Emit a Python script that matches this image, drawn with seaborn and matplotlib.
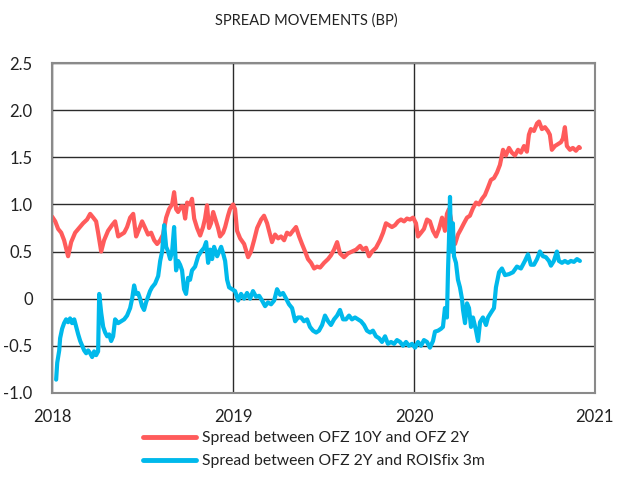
import pandas as pd
import matplotlib
matplotlib.use("Agg")
import matplotlib.pyplot as plt
import seaborn as sns
from matplotlib.ticker import FixedLocator, FuncFormatter

# dates kept as decimal years
red_years = [
    2018.000, 2018.017, 2018.033, 2018.050, 2018.066, 2018.088, 2018.105, 2018.127,
    2018.149, 2018.171, 2018.193, 2018.210, 2018.227, 2018.243, 2018.254, 2018.271,
    2018.287, 2018.309, 2018.331, 2018.348, 2018.365, 2018.381, 2018.398, 2018.414,
    2018.431, 2018.448, 2018.464, 2018.481, 2018.497, 2018.514, 2018.530, 2018.547,
    2018.564, 2018.580, 2018.597, 2018.613, 2018.630, 2018.646, 2018.663, 2018.674,
    2018.685, 2018.696, 2018.713, 2018.724, 2018.735, 2018.746, 2018.762, 2018.773,
    2018.785, 2018.801, 2018.818, 2018.834, 2018.845, 2018.856, 2018.867, 2018.878,
    2018.890, 2018.906, 2018.917, 2018.928, 2018.945, 2018.956, 2018.972, 2018.983,
    2019.000, 2019.011, 2019.022, 2019.039, 2019.061, 2019.083, 2019.099, 2019.116,
    2019.133, 2019.155, 2019.171, 2019.188, 2019.204, 2019.215, 2019.232, 2019.249,
    2019.265, 2019.282, 2019.298, 2019.315, 2019.331, 2019.348, 2019.365, 2019.381,
    2019.398, 2019.414, 2019.431, 2019.448, 2019.464, 2019.481, 2019.503, 2019.525,
    2019.541, 2019.558, 2019.575, 2019.591, 2019.613, 2019.635, 2019.657, 2019.680,
    2019.702, 2019.718, 2019.735, 2019.751, 2019.768, 2019.790, 2019.812, 2019.829,
    2019.845, 2019.862, 2019.878, 2019.895, 2019.912, 2019.928, 2019.945, 2019.961,
    2019.978, 2019.995, 2020.011, 2020.022, 2020.039, 2020.055, 2020.072, 2020.088,
    2020.105, 2020.122, 2020.138, 2020.155, 2020.171, 2020.182, 2020.193, 2020.204,
    2020.215, 2020.227, 2020.243, 2020.260, 2020.276, 2020.293, 2020.309, 2020.326,
    2020.343, 2020.359, 2020.376, 2020.392, 2020.409, 2020.425, 2020.442, 2020.459,
    2020.475, 2020.492, 2020.508, 2020.525, 2020.541, 2020.558, 2020.575, 2020.591,
    2020.608, 2020.624, 2020.635, 2020.646, 2020.663, 2020.680, 2020.691, 2020.707,
    2020.724, 2020.740, 2020.751, 2020.762, 2020.779, 2020.796, 2020.812, 2020.823,
    2020.834, 2020.845, 2020.862, 2020.878, 2020.895, 2020.912, 2020.917,
]
red_values = [
    0.87, 0.82, 0.74, 0.70, 0.62, 0.45, 0.60, 0.70,
    0.75, 0.80, 0.84, 0.90, 0.86, 0.82, 0.70, 0.50,
    0.62, 0.72, 0.78, 0.82, 0.66, 0.68, 0.70, 0.76,
    0.86, 0.90, 0.66, 0.74, 0.82, 0.75, 0.68, 0.70,
    0.62, 0.58, 0.62, 0.68, 0.86, 0.95, 1.00, 1.13,
    0.95, 0.92, 0.98, 0.98, 0.85, 1.02, 1.00, 1.06,
    0.85, 0.75, 0.67, 0.76, 0.85, 0.99, 0.75, 0.80,
    0.92, 0.82, 0.75, 0.66, 0.70, 0.76, 0.88, 0.95,
    1.00, 0.95, 0.72, 0.64, 0.58, 0.44, 0.50, 0.62,
    0.75, 0.84, 0.88, 0.80, 0.68, 0.60, 0.68, 0.64,
    0.66, 0.62, 0.70, 0.68, 0.72, 0.76, 0.66, 0.58,
    0.50, 0.42, 0.38, 0.32, 0.34, 0.33, 0.38, 0.42,
    0.46, 0.52, 0.60, 0.48, 0.44, 0.48, 0.50, 0.52,
    0.56, 0.52, 0.54, 0.45, 0.50, 0.54, 0.62, 0.70,
    0.80, 0.78, 0.76, 0.78, 0.82, 0.84, 0.82, 0.85,
    0.84, 0.86, 0.80, 0.66, 0.70, 0.74, 0.84, 0.82,
    0.72, 0.66, 0.74, 0.86, 0.72, 0.90, 0.95, 0.85,
    0.62, 0.58, 0.68, 0.74, 0.80, 0.86, 0.88, 0.96,
    1.02, 1.00, 1.06, 1.10, 1.18, 1.26, 1.28, 1.34,
    1.42, 1.58, 1.52, 1.60, 1.55, 1.52, 1.58, 1.55,
    1.62, 1.56, 1.74, 1.80, 1.78, 1.86, 1.88, 1.80,
    1.82, 1.78, 1.74, 1.58, 1.62, 1.64, 1.66, 1.70,
    1.82, 1.62, 1.58, 1.60, 1.57, 1.61, 1.60,
]

blue_years = [
    2018.022, 2018.028, 2018.039, 2018.044, 2018.055, 2018.066, 2018.077, 2018.088,
    2018.099, 2018.110, 2018.122, 2018.133, 2018.144, 2018.155, 2018.166, 2018.177,
    2018.188, 2018.199, 2018.210, 2018.221, 2018.232, 2018.243, 2018.254, 2018.260,
    2018.271, 2018.282, 2018.293, 2018.304, 2018.315, 2018.326, 2018.337, 2018.348,
    2018.365, 2018.381, 2018.398, 2018.414, 2018.431, 2018.442, 2018.453, 2018.464,
    2018.475, 2018.486, 2018.497, 2018.508, 2018.519, 2018.530, 2018.541, 2018.552,
    2018.569, 2018.586, 2018.597, 2018.608, 2018.619, 2018.630, 2018.641, 2018.652,
    2018.663, 2018.674, 2018.685, 2018.696, 2018.707, 2018.718, 2018.729, 2018.740,
    2018.751, 2018.762, 2018.773, 2018.790, 2018.807, 2018.823, 2018.840, 2018.851,
    2018.862, 2018.873, 2018.884, 2018.895, 2018.912, 2018.923, 2018.934, 2018.945,
    2018.956, 2018.967, 2018.978, 2018.995, 2019.011, 2019.028, 2019.044, 2019.061,
    2019.077, 2019.094, 2019.110, 2019.127, 2019.144, 2019.160, 2019.177, 2019.193,
    2019.210, 2019.227, 2019.243, 2019.260, 2019.276, 2019.293, 2019.309, 2019.326,
    2019.343, 2019.359, 2019.376, 2019.392, 2019.409, 2019.425, 2019.442, 2019.459,
    2019.475, 2019.492, 2019.508, 2019.525, 2019.541, 2019.558, 2019.575, 2019.591,
    2019.608, 2019.624, 2019.641, 2019.657, 2019.674, 2019.691, 2019.707, 2019.724,
    2019.740, 2019.757, 2019.773, 2019.790, 2019.807, 2019.823, 2019.840, 2019.856,
    2019.873, 2019.890, 2019.906, 2019.923, 2019.939, 2019.956, 2019.972, 2019.989,
    2020.006, 2020.022, 2020.039, 2020.055, 2020.072, 2020.088, 2020.105, 2020.116,
    2020.133, 2020.149, 2020.160, 2020.171, 2020.182, 2020.188, 2020.193, 2020.199,
    2020.204, 2020.210, 2020.215, 2020.221, 2020.232, 2020.243, 2020.254, 2020.265,
    2020.271, 2020.282, 2020.293, 2020.304, 2020.315, 2020.326, 2020.343, 2020.354,
    2020.365, 2020.381, 2020.398, 2020.409, 2020.425, 2020.442, 2020.453, 2020.470,
    2020.486, 2020.503, 2020.525, 2020.547, 2020.569, 2020.591, 2020.613, 2020.630,
    2020.646, 2020.663, 2020.680, 2020.696, 2020.713, 2020.729, 2020.746, 2020.757,
    2020.773, 2020.790, 2020.801, 2020.818, 2020.834, 2020.851, 2020.867, 2020.884,
    2020.901, 2020.917,
]
blue_values = [
    -0.86, -0.68, -0.55, -0.42, -0.32, -0.26, -0.22, -0.25,
    -0.21, -0.26, -0.22, -0.30, -0.38, -0.45, -0.50, -0.55,
    -0.58, -0.55, -0.58, -0.62, -0.56, -0.60, -0.56, 0.05,
    -0.15, -0.30, -0.36, -0.40, -0.38, -0.45, -0.40, -0.22,
    -0.26, -0.24, -0.22, -0.18, -0.10, 0.00, 0.14, 0.05,
    0.06, 0.00, -0.08, -0.12, -0.04, 0.02, 0.08, 0.12,
    0.16, 0.24, 0.40, 0.50, 0.78, 0.55, 0.50, 0.42,
    0.50, 0.76, 0.30, 0.40, 0.36, 0.30, 0.10, 0.05,
    0.22, 0.20, 0.30, 0.34, 0.45, 0.50, 0.54, 0.60,
    0.38, 0.52, 0.42, 0.55, 0.45, 0.50, 0.55, 0.48,
    0.40, 0.20, 0.12, 0.10, 0.08, -0.02, 0.05, 0.00,
    0.06, 0.00, 0.08, 0.02, 0.03, -0.02, -0.08, -0.04,
    -0.06, -0.02, 0.10, 0.04, 0.06, 0.00, -0.06, -0.10,
    -0.24, -0.20, -0.20, -0.24, -0.22, -0.30, -0.34, -0.36,
    -0.34, -0.28, -0.18, -0.24, -0.28, -0.22, -0.18, -0.12,
    -0.22, -0.22, -0.18, -0.22, -0.20, -0.22, -0.24, -0.28,
    -0.34, -0.36, -0.34, -0.40, -0.42, -0.46, -0.40, -0.48,
    -0.46, -0.48, -0.44, -0.46, -0.50, -0.46, -0.50, -0.48,
    -0.52, -0.46, -0.50, -0.44, -0.46, -0.52, -0.45, -0.35,
    -0.34, -0.32, -0.30, -0.10, -0.20, 0.30, 0.60, 1.08,
    0.60, 0.50, 0.80, 0.45, 0.38, 0.20, 0.12, 0.00,
    -0.12, -0.26, -0.05, -0.10, -0.30, -0.20, -0.34, -0.45,
    -0.25, -0.20, -0.28, -0.20, -0.15, -0.10, 0.12, 0.28,
    0.32, 0.25, 0.26, 0.28, 0.34, 0.32, 0.40, 0.47,
    0.36, 0.36, 0.42, 0.50, 0.45, 0.44, 0.40, 0.35,
    0.40, 0.50, 0.40, 0.38, 0.40, 0.38, 0.40, 0.39,
    0.42, 0.40,
]

series_names = ["Spread between OFZ 10Y and OFZ 2Y", "Spread between OFZ 2Y and ROISfix 3m"]
series_colors = ["#ff5b5b", "#00b9eb"]
year_ticks = [2018, 2019, 2020, 2021]
value_ticks = [-1.0, -0.5, 0.0, 0.5, 1.0, 1.5, 2.0, 2.5]

df = pd.concat([
    pd.DataFrame({"year": red_years, "value": red_values, "series": series_names[0]}),
    pd.DataFrame({"year": blue_years, "value": blue_values, "series": series_names[1]}),
])

sns.set_theme(style="white")
plt.rcParams["font.family"] = ["Lato", "DejaVu Sans"]

fig = plt.figure(figsize=(6.21, 4.82), dpi=100)
fig.subplots_adjust(left=0.084, right=0.958, top=0.869, bottom=0.185)
ax = fig.add_subplot(111)

sns.lineplot(
    data=df, x="year", y="value", hue="series",
    hue_order=series_names, palette=series_colors,
    linewidth=3, ax=ax, legend=False, estimator=None, sort=False,
)

ax.set_xlim(2018, 2021)
ax.set_ylim(-1.0, 2.5)
ax.xaxis.set_major_locator(FixedLocator(year_ticks))
ax.yaxis.set_major_locator(FixedLocator(value_ticks))
ax.xaxis.set_major_formatter(FuncFormatter(lambda v, p: f"{int(round(v))}"))
ax.yaxis.set_major_formatter(FuncFormatter(lambda v, p: "0" if abs(v) < 1e-9 else f"{v:.1f}"))
ax.grid(True, color="#2b2b2b", linewidth=1.0)
ax.set_axisbelow(True)
ax.tick_params(axis="both", length=0, labelsize=12, colors="#222222")
ax.tick_params(axis="y", pad=14)
ax.tick_params(axis="x", pad=12)
ax.set_xlabel("")
ax.set_ylabel("")
for side in ["left", "right", "top", "bottom"]:
    ax.spines[side].set_visible(True)
    ax.spines[side].set_color("#8a8a8a")
    ax.spines[side].set_linewidth(1.5)

fig.text(0.493, 0.958, "SPREAD MOVEMENTS (BP)", ha="center", va="center",
         fontsize=10.5, color="#222222")

handles = [plt.Line2D([], [], color=c, linewidth=3.5) for c in series_colors]
fig.legend(handles, series_names, loc="center", bbox_to_anchor=(0.505, 0.067),
           frameon=False, ncol=1, fontsize=11.3, handlelength=3.4,
           handletextpad=0.35, labelspacing=0.6, labelcolor="#222222")

fig.savefig("out.png", dpi=100)
